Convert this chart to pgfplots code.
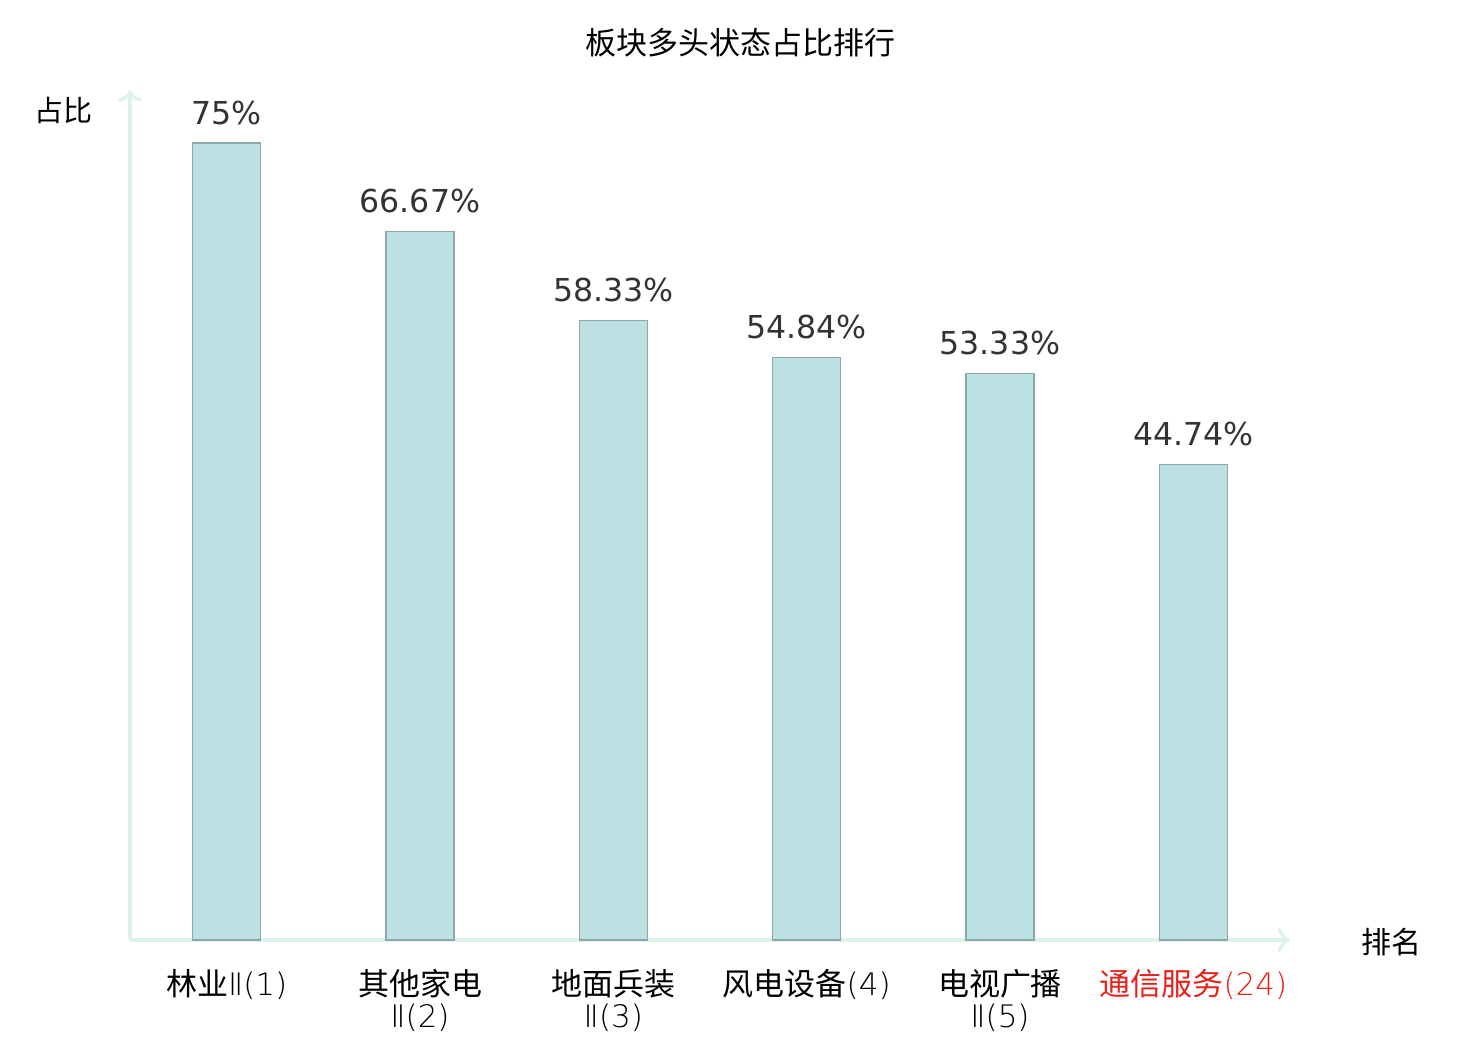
\documentclass[border=0pt]{standalone}
\usepackage{pgfplots}
\pgfplotsset{compat=1.18}
\usetikzlibrary{arrows.meta}
\usepackage{fontspec}
\setmainfont{Noto Sans CJK SC}
\newfontfamily\dejavu{DejaVu Sans}
\newfontfamily\djlight{DejaVu Sans ExtraLight}
\newcommand{\rn}[1]{{\djlight #1}}
\definecolor{barfill}{HTML}{BCE0E3}
\definecolor{baredge}{HTML}{8CA8A8}
\definecolor{axcol}{HTML}{DDF1EF}
\definecolor{lblcol}{HTML}{333333}
\definecolor{redlbl}{HTML}{E8211A}
\begin{document}
\begin{tikzpicture}[x=0.5pt,y=0.5pt]
\useasboundingbox (0,0) rectangle (1480,1040);
\begin{axis}[
  at={(65pt,50pt)}, anchor=south west,
  scale only axis, width=580pt, height=425pt,
  xmin=-0.5, xmax=5.5, ymin=0, ymax=80,
  axis x line=bottom, axis y line=left,
  axis line style={axcol, line width=1.8pt, -{To[length=6pt,width=12pt]}},
  ytick=\empty,
  xtick={0,1,2,3,4,5},
  xticklabels={{林业\rn{Ⅱ(1)}},{其他家电\\\rn{Ⅱ(2)}},{地面兵装\\\rn{Ⅱ(3)}},{风电设备\rn{(4)}},{电视广播\\\rn{Ⅱ(5)}},{\textcolor{redlbl}{通信服务\rn{(24)}}}},
  xticklabel style={align=center, font=\fontsize{15.5pt}{16pt}\selectfont, yshift=-11pt},
  major tick length=0pt,
  clip=false,
]
\addplot[ybar, bar width=34pt, fill=barfill, draw=baredge, line width=0.7pt,
  nodes near coords={\pgfmathprintnumber[fixed,precision=2,assume math mode=true]{\pgfplotspointmeta}\%},
  nodes near coords style={font=\dejavu\fontsize{15.8pt}{17pt}\selectfont, text=lblcol, yshift=5.5pt},
  point meta=explicit]
coordinates {(0,75) [75] (1,66.67) [66.67] (2,58.33) [58.33] (3,54.84) [54.84] (4,53.33) [53.33] (5,44.74) [44.74]};
\end{axis}
\node[font=\fontsize{15.5pt}{16pt}\selectfont] at (740,997) {板块多头状态占比排行};
\node[font=\fontsize{14.5pt}{16pt}\selectfont] at (63,930) {占比};
\node[font=\fontsize{15pt}{16pt}\selectfont] at (1391,98) {排名};
\end{tikzpicture}
\end{document}
